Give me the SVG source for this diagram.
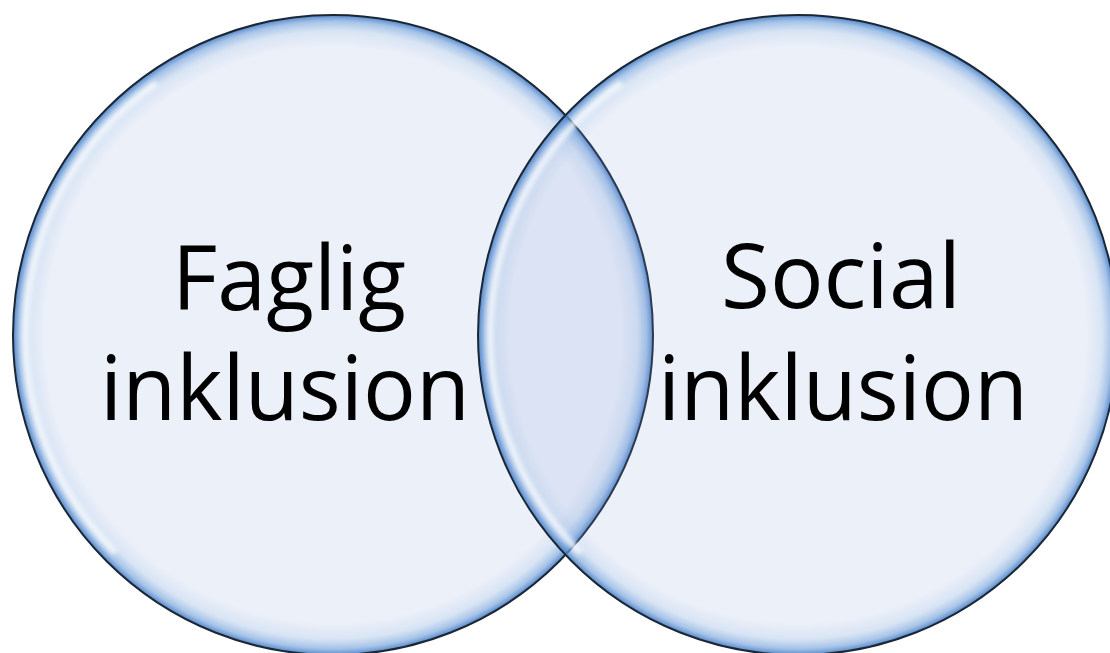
<svg xmlns="http://www.w3.org/2000/svg" width="1110" height="653" viewBox="0 0 1110 653">
  <defs>
    <radialGradient id="bubble" cx="0.5" cy="0.5" r="0.5">
      <stop offset="0" stop-color="#88A1D9" stop-opacity="0.16"/>
      <stop offset="0.9" stop-color="#88A1D9" stop-opacity="0.16"/>
      <stop offset="0.95" stop-color="#7DA6DC" stop-opacity="0.3"/>
      <stop offset="0.98" stop-color="#6A9BD8" stop-opacity="0.6"/>
      <stop offset="1" stop-color="#4A7FC6" stop-opacity="0.95"/>
    </radialGradient>
    <filter id="blur" x="-0.2" y="-0.2" width="1.4" height="1.4">
      <feGaussianBlur stdDeviation="2.5"/>
    </filter>
    <style>
      .circle { fill: url(#bubble); stroke: #1B2735; stroke-width: 2; }
      .hl { fill: none; stroke: #FFFFFF; stroke-width: 6; stroke-opacity: 0.85; filter: url(#blur); }
      .label { font-family: "Open Sans", "Noto Sans", sans-serif; font-size: 90px; fill: #000000; }
    </style>
  </defs>
  <rect width="1110" height="653" fill="#FFFFFF"/>
  <g id="node-faglig">
    <circle class="circle" cx="333" cy="335" r="320"/>
    <path class="hl" d="M 115.2 552.8 A 308 308 0 0 1 156.3 82.7"/>
  </g>
  <g id="node-social">
    <circle class="circle" cx="798" cy="335" r="320"/>
    <path class="hl" d="M 580.2 552.8 A 308 308 0 0 1 621.3 82.7"/>
  </g>
  <g id="labels">
    <text class="label" x="172" y="310" textLength="234" lengthAdjust="spacingAndGlyphs">Faglig</text>
    <text class="label" x="100" y="420" textLength="370" lengthAdjust="spacingAndGlyphs">inklusion</text>
    <text class="label" x="721" y="308" textLength="240" lengthAdjust="spacingAndGlyphs">Social</text>
    <text class="label" x="658" y="420" textLength="370" lengthAdjust="spacingAndGlyphs">inklusion</text>
  </g>
  <g id="connectors"/>
</svg>
